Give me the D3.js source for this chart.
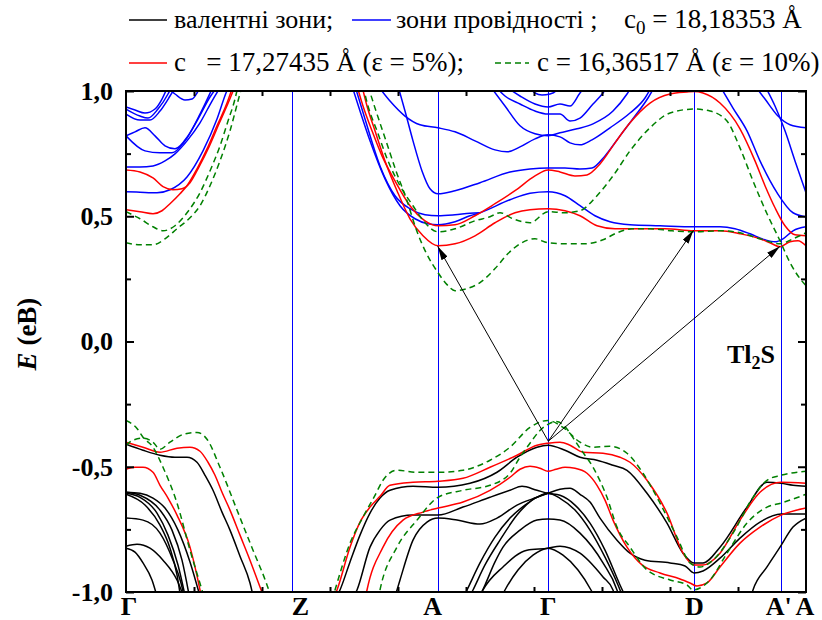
<!DOCTYPE html>
<html>
<head>
<meta charset="utf-8">
<script src="https://cdn.jsdelivr.net/npm/d3@7"></script>
<style>
  body { margin: 0; background: #fff; }
  svg text { font-family: "Liberation Serif", "Times New Roman", "DejaVu Serif", serif; }
</style>
</head>
<body>
<svg id="chart" width="822" height="620"></svg>
<script>
// high-symmetry points along the k-path
const kPoints = [0, 1.655, 3.117, 4.223, 5.683, 6.547, 6.80];
const kLabels = ["Γ", "Z", "A", "Γ", "D", "A'", "A"];
const yMajor = [-1, -0.5, 0, 0.5, 1];
const yMinor = [-0.75, -0.25, 0.25, 0.75];
const xTicks = [0.68, 1.36, 2.04, 2.72, 3.40, 4.08, 4.76, 5.44, 6.12];

// helper: zip k and E lists into points
function band(k, e) { return k.map((v, i) => [v, e[i]]); }

// ---- conduction bands, c0 (blue)
const cbL1 = band([0,.14,.31,.44,.61,.77,.91,1.00,1.03], [.598,.596,.594,.606,.657,.761,.888,.992,1.02]);
const cbL2 = band([0,.14,.27,.39,.49,.61,.74,.86,.95], [.697,.697,.701,.721,.749,.801,.873,.960,1.02]);
const cbL3 = band([0,.19,.34,.46,.59,.72,.84,.92], [.821,.761,.753,.753,.801,.888,.976,1.02]);
const cbL4 = band([0,.09,.19,.29,.39,.49,.62,.74,.86], [.821,.837,.853,.821,.781,.769,.821,.908,1.008]);
const cbL5 = band([0,.09,.19,.29,.36,.42], [.936,.924,.912,.928,.968,1.02]);
const cbL6 = band([0,.14,.22,.32,.42,.46], [.928,.900,.892,.928,.988,1.02]);
const cbL7 = band([0,.14,.24,.34,.44,.50], [.908,.884,.884,.920,.980,1.02]);
const cbL8 = band([.39,.49,.59,.66,.71,.75], [1.02,.988,.964,.968,.992,1.02]);
const cbM1 = band([2.26,2.34,2.44,2.59,2.74,2.89,3.02,3.12,3.29,3.44,3.54,3.84,4.04,4.22,4.39,4.54,4.69,4.84,5.04,5.34,5.68,5.94,6.09,6.24,6.39,6.49,6.57,6.67,6.80],
                  [1.02,.920,.801,.649,.542,.490,.470,.466,.478,.502,.514,.566,.592,.598,.582,.542,.502,.478,.466,.462,.458,.458,.450,.430,.406,.398,.410,.442,.458]);
const cbM2 = band([2.29,2.39,2.54,2.69,2.84,2.99,3.12,3.29,3.44,3.54], [1.02,.888,.701,.582,.530,.506,.502,.506,.512,.514]);
const cbM3 = band([2.72,2.79,2.87,2.96,3.04,3.12,3.29,3.54,3.84,4.04,4.22,4.39,4.54,4.66,4.79,4.94,5.09,5.22,5.29],
                  [1.02,.920,.801,.681,.610,.590,.602,.634,.677,.689,.693,.693,.689,.693,.741,.821,.900,.972,1.02]);
const cbM4 = band([2.52,2.64,2.79,2.94,3.12,3.29,3.49,3.69,3.81,3.94,4.09,4.22,4.34,4.44,4.54,4.66,4.84,5.04,5.19,5.26],
                  [1.02,.960,.900,.865,.853,.837,.801,.765,.757,.777,.809,.825,.817,.793,.785,.805,.853,.912,.972,1.02]);
const cbM5 = band([3.64,3.79,3.94,4.09,4.22,4.34,4.51,4.67,4.87,5.01,5.06], [1.02,.940,.861,.829,.821,.833,.849,.869,.920,.988,1.02]);
const cbM6 = band([3.69,3.79,3.94,4.09,4.22,4.34,4.44,4.54,4.67,4.77,4.82], [1.02,.980,.948,.920,.908,.908,.880,.892,.948,.992,1.02]);
const cbM7 = band([3.79,3.94,4.09,4.22,4.34,4.44,4.54,4.60], [1.02,.980,.948,.936,.948,.940,.992,1.02]);
const cbM8 = band([4.02,4.09,4.16,4.24,4.30,4.34], [1.02,.992,.984,.988,1.0,1.02]);
const cbR1 = band([5.94,6.07,6.21,6.34,6.51,6.67,6.80], [1.02,.932,.841,.721,.594,.514,.498]);
const cbR2 = band([6.39,6.49,6.59,6.69,6.80], [1.02,.940,.841,.721,.594]);
const cbR3 = band([6.29,6.39,6.52,6.64,6.80], [1.02,.968,.900,.865,.853]);

// ---- valence bands, c0 (black)
const vbL1 = band([0,.17,.34,.49,.61,.71,.79,.87,.96,1.04,1.14,1.24,1.28], [-.410,-.434,-.454,-.462,-.462,-.482,-.534,-.594,-.681,-.753,-.857,-.964,-1.032]);
const vbL2 = band([0,.14,.27,.39,.52,.64,.75], [-.602,-.606,-.625,-.665,-.753,-.880,-1.032]);
const vbL3 = band([0,.14,.34,.46,.56,.64], [-.602,-.614,-.673,-.753,-.873,-1.032]);
const vbL4 = band([0,.14,.31,.42,.52,.60], [-.606,-.622,-.685,-.773,-.892,-1.032]);
const vbL5 = band([0,.19,.34,.44,.51,.55], [-.610,-.653,-.733,-.825,-.932,-1.032]);
const vbL6 = band([0,.17,.34,.47,.55,.59], [-.705,-.713,-.765,-.873,-.964,-1.032]);
const vbL7 = band([0,.11,.24,.37,.51,.59], [-.817,-.809,-.825,-.873,-.952,-1.032]);
const vbL8 = band([0,.09,.17,.26,.32], [-.825,-.841,-.884,-.952,-1.032]);
const vbM1 = band([2.09,2.14,2.24,2.34,2.44,2.54,2.64,2.87,3.12,3.44,3.71,3.91,4.11,4.22,4.39,4.54,4.71,4.87,5.01,5.21,5.41,5.57,5.68,5.77,5.94,6.21,6.41,6.55,6.67,6.80],
                  [-1.032,-.992,-.880,-.773,-.685,-.625,-.594,-.578,-.582,-.566,-.522,-.462,-.422,-.414,-.434,-.462,-.474,-.494,-.514,-.606,-.725,-.845,-.884,-.884,-.821,-.661,-.562,-.566,-.574,-.578]);
const vbM2 = band([2.26,2.31,2.44,2.54,2.64,2.87,3.12,3.37,3.64,3.84,3.96,4.11,4.22,4.34,4.49,4.64,4.79,4.94,5.01],
                  [-1.032,-.992,-.821,-.753,-.713,-.693,-.693,-.661,-.622,-.594,-.578,-.594,-.606,-.614,-.653,-.725,-.833,-.972,-1.032]);
const vbM3 = band([2.68,2.74,2.87,3.01,3.12,3.31,3.54,3.71,3.91,4.11,4.22,4.34,4.44,4.54,4.64,4.74,4.91,5.04,5.19,5.44,5.59,5.68,5.77,5.94,6.14,6.34,6.55,6.80],
                  [-1.032,-.952,-.793,-.721,-.705,-.713,-.729,-.705,-.653,-.622,-.606,-.590,-.586,-.610,-.641,-.705,-.793,-.845,-.873,-.884,-.896,-.924,-.916,-.865,-.785,-.721,-.689,-.689]);
const vbM4 = band([3.36,3.41,3.54,3.69,3.84,3.99,4.11,4.22,4.34,4.49,4.64,4.79,4.92,4.98],
                  [-1.032,-.992,-.884,-.781,-.705,-.653,-.622,-.606,-.626,-.673,-.753,-.861,-.972,-1.032]);
const vbM5 = band([3.52,3.59,3.69,3.77,3.94,4.11,4.22,4.34,4.54,4.77,4.91,4.94], [-1.032,-.972,-.880,-.821,-.753,-.713,-.709,-.713,-.765,-.884,-.992,-1.032]);
const vbM6 = band([3.52,3.57,3.77,4.01,4.22,4.34,4.54,4.77,4.87,4.90], [-1.032,-.992,-.900,-.833,-.825,-.817,-.845,-.940,-.992,-1.032]);
const vbM7 = band([3.74,3.79,3.92,4.07,4.22,4.37,4.52,4.65,4.70], [-1.032,-.992,-.912,-.853,-.825,-.853,-.912,-.992,-1.032]);
const vbM9 = band([3.42,3.47,3.59,3.74,3.91,4.06,4.22], [-1.032,-.992,-.892,-.793,-.693,-.633,-.606]);
const vbR1 = band([6.24,6.27,6.41,6.54,6.67,6.80], [-1.032,-.992,-.900,-.821,-.741,-.705]);

// ---- c = 17,27435 Å, ε = 5% (red)
const crL1 = band([0,.14,.27,.37,.47,.56,.64,.73,.83,.93,1.03,1.09], [.685,.677,.653,.618,.606,.610,.634,.697,.777,.869,.960,1.02]);
const crL2 = band([0,.14,.27,.36,.44,.54,.61,.71,.81,.91,1.01,1.07], [.526,.518,.510,.522,.550,.590,.622,.689,.769,.861,.952,1.02]);
const crM1 = band([2.31,2.37,2.46,2.56,2.69,2.84,2.99,3.12,3.29,3.49,3.69,3.89,4.09,4.22,4.34,4.49,4.61,4.74,4.89,5.04,5.24,5.44,5.61,5.68,5.77,5.94,6.14,6.29,6.39,6.49,6.59,6.69,6.80],
                  [1.02,.940,.841,.741,.641,.542,.482,.462,.466,.502,.550,.602,.661,.685,.677,.661,.665,.709,.793,.873,.952,.988,.996,.998,.992,.952,.849,.721,.622,.534,.462,.426,.422]);
const crM2 = band([2.36,2.41,2.49,2.59,2.71,2.84,2.97,3.12,3.29,3.49,3.69,3.89,4.04,4.22,4.39,4.54,4.71,4.89,5.14,5.39,5.68,5.94,6.14,6.34,6.46,6.54,6.64,6.72,6.80],
                  [1.02,.940,.841,.721,.602,.490,.422,.382,.390,.422,.474,.514,.526,.530,.522,.502,.462,.450,.450,.450,.442,.442,.430,.410,.390,.378,.398,.402,.382]);
const rvL1 = band([0,.17,.34,.51,.64,.74,.82,.89,.96,1.04,1.14,1.24,1.34,1.39], [-.402,-.422,-.442,-.426,-.422,-.438,-.482,-.534,-.602,-.673,-.773,-.873,-.980,-1.032]);
const rvL2 = band([0,.09,.17,.27,.34,.42,.51,.64,.74,.76], [-.510,-.502,-.502,-.522,-.574,-.625,-.693,-.821,-.992,-1.032]);
const rvM1 = band([2.07,2.11,2.24,2.34,2.44,2.54,2.64,2.87,3.12,3.37,3.64,3.91,4.11,4.22,4.34,4.44,4.57,4.77,4.94,5.04,5.21,5.41,5.57,5.68,5.77,5.94,6.14,6.34,6.55,6.80],
                  [-1.032,-.992,-.821,-.721,-.661,-.618,-.574,-.562,-.558,-.546,-.502,-.454,-.414,-.406,-.402,-.414,-.442,-.446,-.462,-.482,-.554,-.685,-.845,-.892,-.892,-.845,-.713,-.602,-.562,-.566]);
const rvM2 = band([2.39,2.41,2.57,2.77,2.97,3.12,3.37,3.64,3.84,3.94,4.04,4.14,4.22,4.30,4.39,4.49,4.61,4.71,4.79,4.87,5.01,5.16,5.34,5.54,5.64,5.71,5.81,5.94,6.14,6.34,6.55,6.80],
                  [-1.032,-.992,-.821,-.713,-.681,-.665,-.641,-.594,-.542,-.510,-.498,-.506,-.518,-.510,-.502,-.506,-.526,-.574,-.633,-.713,-.821,-.892,-.924,-.948,-.964,-.976,-.964,-.900,-.805,-.741,-.693,-.665]);

// ---- c = 16,36517 Å, ε = 10% (green dashed)
const cgL1 = band([0,.14,.27,.37,.49,.61,.74,.84,.94,1.02,1.09,1.12], [.518,.490,.458,.442,.462,.514,.594,.681,.781,.880,.968,1.02]);
const cgL2 = band([0,.14,.27,.39,.51,.64,.74,.84,.94,1.04,1.12,1.16], [.394,.386,.386,.410,.450,.494,.542,.622,.721,.841,.960,1.02]);
const cgM1 = band([2.37,2.42,2.51,2.62,2.74,2.87,2.99,3.12,3.29,3.49,3.64,3.74,3.87,4.04,4.22,4.39,4.54,4.71,4.87,5.04,5.24,5.44,5.68,5.84,6.01,6.14,6.27,6.41,6.54,6.64,6.74,6.80],
                  [1.02,.940,.841,.721,.622,.542,.474,.438,.450,.482,.498,.514,.490,.474,.518,.514,.522,.582,.661,.761,.853,.912,.928,.920,.880,.773,.641,.510,.402,.315,.251,.223]);
const cgM2 = band([2.42,2.50,2.60,2.70,2.81,2.90,3.00,3.12,3.21,3.29,3.41,3.54,3.69,3.82,3.94,4.09,4.22,4.39,4.59,4.77,4.91,5.06,5.24,5.46,5.68,5.94,6.14,6.34,6.54,6.67,6.80],
                  [1.02,.920,.801,.681,.562,.450,.355,.275,.227,.203,.211,.235,.291,.351,.390,.410,.394,.390,.390,.406,.434,.450,.450,.442,.438,.442,.434,.410,.390,.410,.434]);
const gvL1 = band([0,.11,.17,.27,.37,.51,.64,.76,.79], [-.315,-.347,-.382,-.422,-.502,-.645,-.833,-.992,-1.032]);
const gvL2 = band([0,.07,.17,.27,.34,.44,.57,.71,.81,.94,1.11,1.27,1.41,1.46], [-.414,-.394,-.386,-.402,-.430,-.402,-.371,-.363,-.390,-.502,-.673,-.833,-.972,-1.032]);
const gvM1 = band([2.06,2.09,2.24,2.37,2.49,2.57,2.71,2.91,3.12,3.37,3.64,3.84,4.04,4.22,4.37,4.54,4.67,4.84,5.01,5.17,5.34,5.51,5.64,5.74,5.87,6.07,6.27,6.41,6.55,6.80],
                  [-1.032,-.992,-.805,-.701,-.614,-.554,-.514,-.522,-.522,-.514,-.474,-.422,-.343,-.315,-.343,-.402,-.422,-.418,-.446,-.526,-.645,-.781,-.884,-.900,-.873,-.765,-.622,-.554,-.534,-.518]);
const gvM2 = band([2.52,2.54,2.71,2.91,3.12,3.37,3.64,3.84,3.94,4.04,4.14,4.22,4.30,4.38,4.46,4.54,4.67,4.81,4.91,5.04,5.21,5.44,5.61,5.67,5.74,5.84,6.01,6.21,6.41,6.55,6.80],
                  [-1.032,-.992,-.821,-.713,-.622,-.594,-.574,-.526,-.462,-.406,-.355,-.331,-.319,-.335,-.378,-.426,-.502,-.622,-.741,-.821,-.912,-.952,-.972,-.992,-.984,-.952,-.845,-.725,-.661,-.645,-.610]);

const blueBands = [cbL1, cbL2, cbL3, cbL4, cbL5, cbL6, cbL7, cbL8, cbM1, cbM2, cbM3, cbM4, cbM5, cbM6, cbM7, cbM8, cbR1, cbR2, cbR3];
const blackBands = [vbL1, vbL2, vbL3, vbL4, vbL5, vbL6, vbL7, vbL8, vbM1, vbM2, vbM3, vbM4, vbM5, vbM6, vbM7, vbM9, vbR1];
const redBands = [crL1, crL2, crM1, crM2, rvL1, rvL2, rvM1, rvM2];
const greenBands = [cgL1, cgL2, cgM1, cgM2, gvL1, gvL2, gvM1, gvM2];

// transitions drawn as arrows: from valence top at Γ to conduction minima
const arrowFrom = [4.223, -0.398];
const arrowTo = [[3.117, 0.380], [5.675, 0.444], [6.540, 0.380]];

// ---- drawing
const FONT = '"Liberation Serif", "Times New Roman", "DejaVu Serif", serif';
const svg = d3.select("#chart").attr("font-family", FONT);
const x = d3.scaleLinear().domain([0, 6.80]).range([126, 806]);
const y = d3.scaleLinear().domain([-1, 1]).range([592, 91]);

const defs = svg.append("defs");
defs.append("clipPath").attr("id", "plot-clip")
  .append("rect")
  .attr("x", x(0)).attr("y", y(1))
  .attr("width", x(6.80) - x(0)).attr("height", y(-1) - y(1));

defs.append("marker")
  .attr("id", "arrowhead")
  .attr("markerUnits", "userSpaceOnUse")
  .attr("viewBox", "0 0 14 7")
  .attr("refX", 14).attr("refY", 3.5)
  .attr("markerWidth", 14).attr("markerHeight", 7)
  .attr("orient", "auto")
  .append("path").attr("d", "M0,0 L14,3.5 L0,7 Z").attr("fill", "#000");

const plot = svg.append("g").attr("clip-path", "url(#plot-clip)");

// vertical lines at high-symmetry points (snapped to pixel centres)
plot.selectAll(".kline")
  .data(kPoints.slice(1, -1))
  .join("line")
  .attr("class", "kline")
  .attr("x1", d => Math.round(x(d)) + 0.5).attr("x2", d => Math.round(x(d)) + 0.5)
  .attr("y1", y(1)).attr("y2", y(-1))
  .attr("stroke", "#0000ff")
  .attr("stroke-width", 1);

const line = d3.line()
  .x(d => x(d[0]))
  .y(d => y(d[1]))
  .curve(d3.curveMonotoneX);

function drawBands(data, color, dash) {
  plot.append("g")
    .selectAll("path")
    .data(data)
    .join("path")
    .attr("d", line)
    .attr("fill", "none")
    .attr("stroke", color)
    .attr("stroke-width", 1.5)
    .attr("stroke-dasharray", dash || null);
}
drawBands(blueBands, "#0000ff");
drawBands(blackBands, "#000000");
drawBands(redBands, "#ff0000");
drawBands(greenBands, "#008000", "6,4");

// arrows
svg.append("g")
  .selectAll("line")
  .data(arrowTo)
  .join("line")
  .attr("x1", x(arrowFrom[0])).attr("y1", y(arrowFrom[1]))
  .attr("x2", d => x(d[0])).attr("y2", d => y(d[1]))
  .attr("stroke", "#000")
  .attr("stroke-width", 1)
  .attr("marker-end", "url(#arrowhead)");

// axes
const fmt = d => d3.format(".1f")(d).replace(".", ",").replace("−", "-");

function styleAxis(g) {
  g.attr("font-family", FONT);
  g.select(".domain").remove();
  g.selectAll(".tick line").attr("stroke", "#000").attr("stroke-width", 2);
  g.selectAll(".tick text")
    .attr("fill", "#000")
    .style("font-family", FONT)
    .style("font-size", "26px")
    .style("font-weight", "bold");
}

svg.append("g").attr("transform", `translate(${x(0)},0)`)
  .call(d3.axisLeft(y).tickValues(yMajor).tickSize(-8).tickSizeOuter(0).tickPadding(13).tickFormat(fmt))
  .call(styleAxis);
svg.append("g").attr("transform", `translate(${x(0)},0)`)
  .call(d3.axisLeft(y).tickValues(yMinor).tickSize(-5).tickSizeOuter(0).tickFormat(""))
  .call(styleAxis);
svg.append("g").attr("transform", `translate(${x(6.80)},0)`)
  .call(d3.axisRight(y).tickValues(yMajor).tickSize(-8).tickSizeOuter(0).tickFormat(""))
  .call(styleAxis);
svg.append("g").attr("transform", `translate(${x(6.80)},0)`)
  .call(d3.axisRight(y).tickValues(yMinor).tickSize(-5).tickSizeOuter(0).tickFormat(""))
  .call(styleAxis);
svg.append("g").attr("transform", `translate(0,${y(-1)})`)
  .call(d3.axisBottom(x).tickValues(xTicks).tickSize(-5).tickSizeOuter(0).tickFormat(""))
  .call(styleAxis);
svg.append("g").attr("transform", `translate(0,${y(1)})`)
  .call(d3.axisTop(x).tickValues(xTicks).tickSize(-5).tickSizeOuter(0).tickFormat(""))
  .call(styleAxis);

// frame
svg.append("rect")
  .attr("x", x(0)).attr("y", y(1))
  .attr("width", x(6.80) - x(0)).attr("height", y(-1) - y(1))
  .attr("fill", "none")
  .attr("stroke", "#000")
  .attr("stroke-width", 2);

// k-point labels
const labelDx = [3, 9, -5, 0, 0, -2, -1];
svg.append("g")
  .selectAll("text")
  .data(kLabels)
  .join("text")
  .attr("x", (d, i) => x(kPoints[i]) + labelDx[i])
  .attr("y", 615)
  .attr("text-anchor", "middle")
  .style("font-size", "26px")
  .style("font-weight", "bold")
  .text(d => d);

// y axis title
const yTitle = svg.append("text")
  .attr("transform", "translate(36,334) rotate(-90)")
  .attr("text-anchor", "middle")
  .style("font-size", "27px")
  .style("font-weight", "bold");
yTitle.append("tspan").style("font-style", "italic").text("E");
yTitle.append("tspan").text(" (eB)");

// compound label
const tl = svg.append("text")
  .attr("x", 727).attr("y", 363)
  .style("font-size", "26px")
  .style("font-weight", "bold");
tl.append("tspan").text("Tl");
tl.append("tspan").attr("dy", 6).style("font-size", "18px").text("2");
tl.append("tspan").attr("dy", -6).text("S");

// legend
const legend = svg.append("g").style("font-size", "27px");
function legendLine(x1, x2, yy, color, dash) {
  legend.append("line")
    .attr("x1", x1).attr("x2", x2).attr("y1", yy).attr("y2", yy)
    .attr("stroke", color).attr("stroke-width", 1.5)
    .attr("stroke-dasharray", dash || null);
}
legendLine(129, 167, 20, "#000000");
legend.append("text").attr("x", 174).attr("y", 28).style("font-size", "26px").text("валентні зони;");
legendLine(352, 391, 20, "#0000ff");
legend.append("text").attr("x", 396).attr("y", 28).style("font-size", "26px").style("white-space", "pre").text("зони провідності ;");
const c0 = legend.append("text").attr("x", 624).attr("y", 28).style("white-space", "pre");
c0.append("tspan").text("c");
c0.append("tspan").attr("dy", 6).style("font-size", "19px").text("0");
c0.append("tspan").attr("dy", -6).text(" = 18,18353 Å");

legendLine(129, 167, 63, "#ff0000");
legend.append("text").attr("x", 174).attr("y", 71).style("white-space", "pre").text("c   = 17,27435 Å (ε = 5%);");
legendLine(495, 529, 63, "#008000", "6,4");
legend.append("text").attr("x", 537).attr("y", 71).style("white-space", "pre").text("c = 16,36517 Å (ε = 10%)");
</script>
</body>
</html>
